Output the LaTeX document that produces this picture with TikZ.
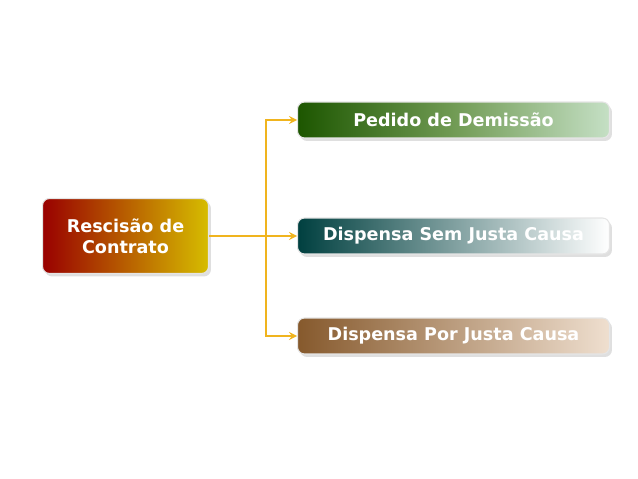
\documentclass[tikz,border=0pt]{standalone}
\usepackage{fontspec}
\setmainfont{DejaVu Sans}
\usetikzlibrary{shadows}
\definecolor{linkgold}{RGB}{240,180,30}
\begin{document}
\begin{tikzpicture}[x=0.02cm, y=-0.02cm, >=stealth, thick]
\tikzset{
  box/.style={
    draw=white!80!gray, line width=0.6pt, rectangle, rounded corners=4pt,
    text=white, font=\bfseries\fontsize{10}{12}\selectfont,
    align=center, anchor=west, minimum height=0.72cm,
    drop shadow={opacity=0.25, shadow xshift=0.5mm, shadow yshift=-0.6mm}
  },
  link/.style={->, draw=linkgold, line width=1pt}
}
\useasboundingbox (0,0) rectangle (638,479);
\node[box, minimum width=3.32cm, minimum height=1.5cm, shading=axis, shading angle=60,
  left color=red!60!black, right color=yellow!60!olive!80!orange]
  (main) at (42,236) {Rescisão de\\Contrato};
\node[box, minimum width=6.24cm, left color=olive!50!green!45!black, right color=green!30!gray!35!white]
  (pedido) at (297,120) {Pedido de Demissão};
\node[box, minimum width=6.24cm, left color=cyan!25!black, right color=white]
  (sem) at (297,236) {Dispensa Sem Justa Causa};
\node[box, minimum width=6.24cm, left color=brown!70!black, right color=brown!25!white]
  (por) at (297,336) {Dispensa Por Justa Causa};

\coordinate (split) at (266,236);
\draw[draw=linkgold, line width=1pt] (main.east) -- (split);
\draw[link] (split) |- (pedido.west);
\draw[link] (split) -- (sem.west);
\draw[link] (split) |- (por.west);
\end{tikzpicture}
\end{document}
